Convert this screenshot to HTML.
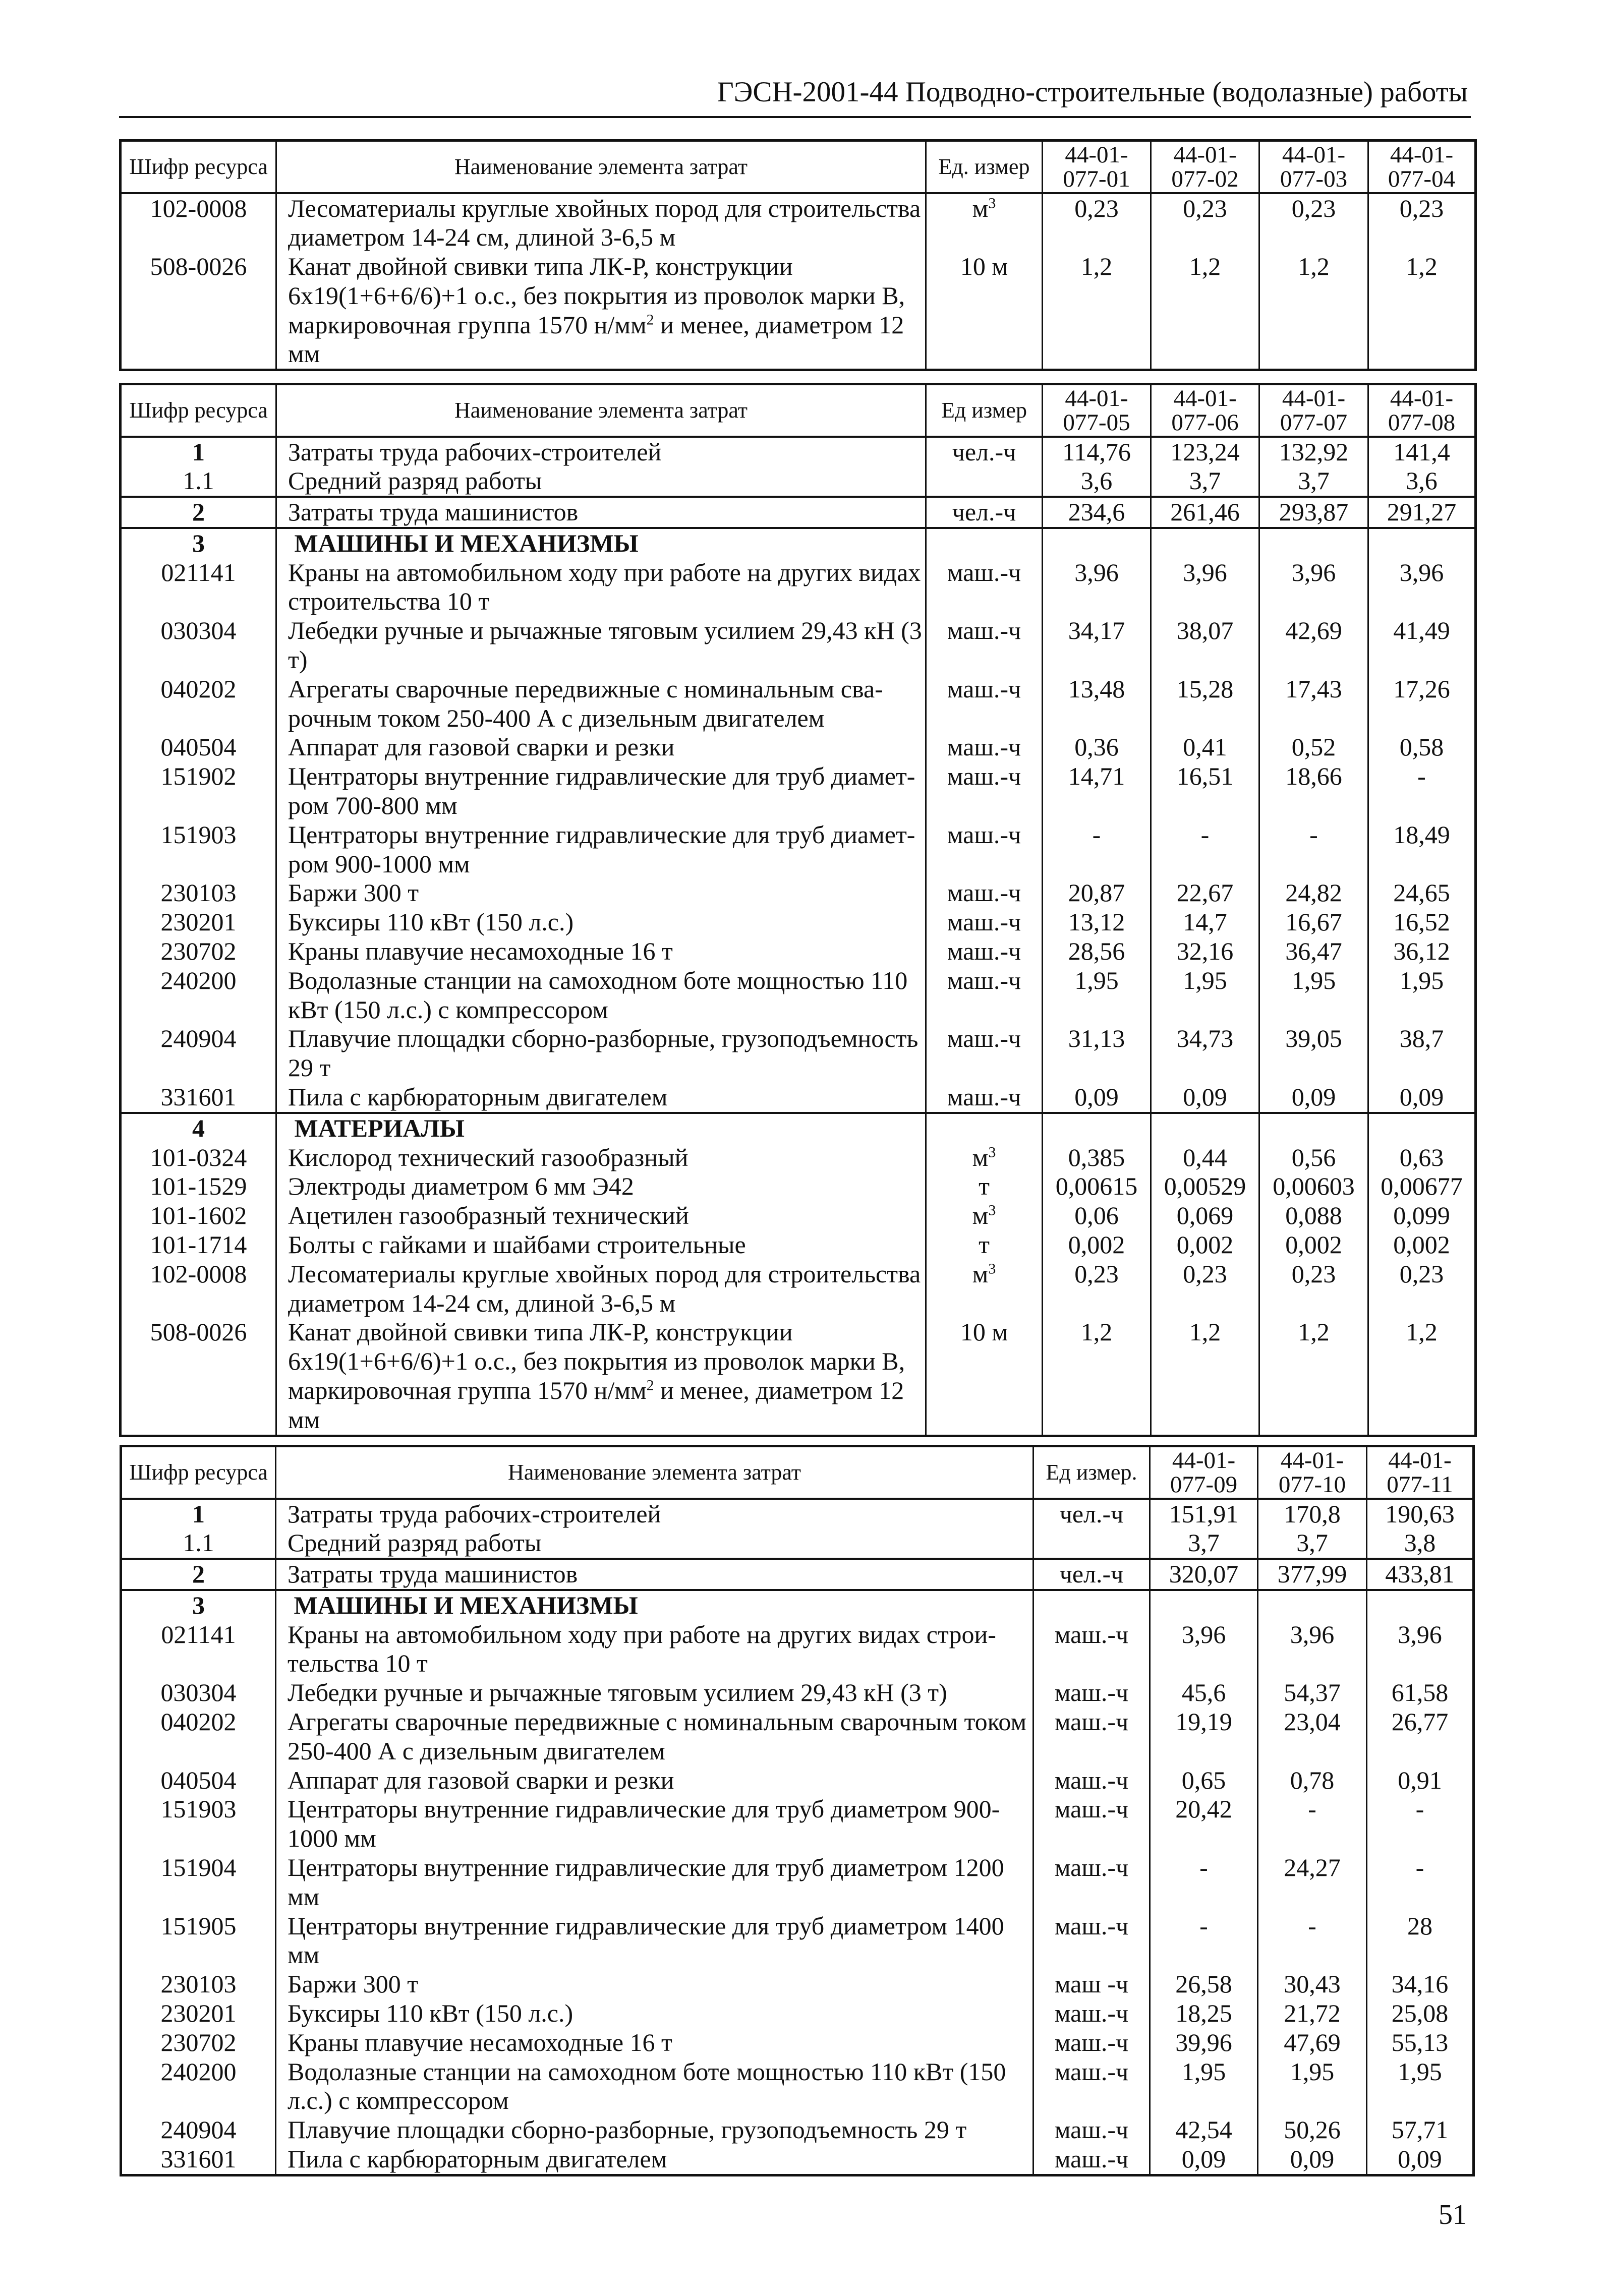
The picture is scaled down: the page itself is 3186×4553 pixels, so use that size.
<!DOCTYPE html>
<html><head><meta charset="utf-8"><style>
body{margin:0;width:3186px;height:4553px;background:#fff;position:relative;font-family:"Liberation Serif","DejaVu Serif",serif;color:#111;overflow:hidden}
.hdr{position:absolute;right:276px;top:150px;font-size:57px;white-space:nowrap}
.rule{position:absolute;left:236px;width:2680px;top:230px;height:4px;background:#111}
table{position:absolute;border-collapse:collapse;table-layout:fixed;border:5px solid #111;font-size:50px}
td{padding:0;vertical-align:top;line-height:57.8px;border-left:3px solid #111;border-right:3px solid #111;white-space:nowrap;overflow:visible}
td.c{text-align:center}
td.n{padding-left:22px}
tr.h td{vertical-align:middle;text-align:center;font-size:44px;line-height:48px;border-bottom:4px solid #111}
tr.h td.k{font-size:47px}
tr.b td{border-bottom:4px solid #111}
b{font-weight:bold}
sup{font-size:60%;line-height:0}
.pg{position:absolute;left:2852px;top:4360px;font-size:56px}
</style></head><body>
<div class="hdr">ГЭСН-2001-44 Подводно-строительные (водолазные) работы</div>
<div class="rule"></div>

<table style="left:236px;top:276px;width:2687px">
<colgroup><col style="width:309px"><col style="width:1288px"><col style="width:231px"><col style="width:215px"><col style="width:215px"><col style="width:216px"><col style="width:213px"></colgroup>
<tr class="h" style="height:104px"><td>Шифр ресурса</td><td>Наименование элемента затрат</td><td>Ед. измер</td><td class="k">44-01-<br>077-01</td><td class="k">44-01-<br>077-02</td><td class="k">44-01-<br>077-03</td><td class="k">44-01-<br>077-04</td></tr>
<tr><td class="c">102-0008</td><td class="n">Лесоматериалы круглые хвойных пород для строительства<br>диаметром 14-24 см, длиной 3-6,5 м</td><td class="c">м<sup>3</sup></td><td class="c">0,23</td><td class="c">0,23</td><td class="c">0,23</td><td class="c">0,23</td></tr>
<tr><td class="c">508-0026</td><td class="n">Канат двойной свивки типа ЛК-Р, конструкции<br>6х19(1+6+6/6)+1 о.с., без покрытия из проволок марки В,<br>маркировочная группа 1570 н/мм<sup>2</sup> и менее, диаметром 12<br>мм</td><td class="c">10 м</td><td class="c">1,2</td><td class="c">1,2</td><td class="c">1,2</td><td class="c">1,2</td></tr>
</table>

<table style="left:236px;top:759px;width:2687px">
<colgroup><col style="width:309px"><col style="width:1288px"><col style="width:231px"><col style="width:215px"><col style="width:215px"><col style="width:216px"><col style="width:213px"></colgroup>
<tr class="h" style="height:104px"><td>Шифр ресурса</td><td>Наименование элемента затрат</td><td>Ед измер</td><td class="k">44-01-<br>077-05</td><td class="k">44-01-<br>077-06</td><td class="k">44-01-<br>077-07</td><td class="k">44-01-<br>077-08</td></tr>
<tr><td class="c"><b>1</b><br>1.1</td><td class="n">Затраты труда рабочих-строителей<br>Средний разряд работы</td><td class="c">чел.-ч</td><td class="c">114,76<br>3,6</td><td class="c">123,24<br>3,7</td><td class="c">132,92<br>3,7</td><td class="c">141,4<br>3,6</td></tr>
<tr class="b" style="border-top:4px solid #111"><td class="c"><b>2</b></td><td class="n">Затраты труда машинистов</td><td class="c">чел.-ч</td><td class="c">234,6</td><td class="c">261,46</td><td class="c">293,87</td><td class="c">291,27</td></tr>
<tr><td class="c"><b>3</b><br>021141<br><br>030304<br><br>040202<br><br>040504<br>151902<br><br>151903<br><br>230103<br>230201<br>230702<br>240200<br><br>240904<br><br>331601</td>
<td class="n"><b>&nbsp;МАШИНЫ И МЕХАНИЗМЫ</b><br>Краны на автомобильном ходу при работе на других видах<br>строительства 10 т<br>Лебедки ручные и рычажные тяговым усилием 29,43 кН (3<br>т)<br>Агрегаты сварочные передвижные с номинальным сва-<br>рочным током 250-400 А с дизельным двигателем<br>Аппарат для газовой сварки и резки<br>Центраторы внутренние гидравлические для труб диамет-<br>ром 700-800 мм<br>Центраторы внутренние гидравлические для труб диамет-<br>ром 900-1000 мм<br>Баржи 300 т<br>Буксиры 110 кВт (150 л.с.)<br>Краны плавучие несамоходные 16 т<br>Водолазные станции на самоходном боте мощностью 110<br>кВт (150 л.с.) с компрессором<br>Плавучие площадки сборно-разборные, грузоподъемность<br>29 т<br>Пила с карбюраторным двигателем</td>
<td class="c"><br>маш.-ч<br><br>маш.-ч<br><br>маш.-ч<br><br>маш.-ч<br>маш.-ч<br><br>маш.-ч<br><br>маш.-ч<br>маш.-ч<br>маш.-ч<br>маш.-ч<br><br>маш.-ч<br><br>маш.-ч</td>
<td class="c"><br>3,96<br><br>34,17<br><br>13,48<br><br>0,36<br>14,71<br><br>-<br><br>20,87<br>13,12<br>28,56<br>1,95<br><br>31,13<br><br>0,09</td>
<td class="c"><br>3,96<br><br>38,07<br><br>15,28<br><br>0,41<br>16,51<br><br>-<br><br>22,67<br>14,7<br>32,16<br>1,95<br><br>34,73<br><br>0,09</td>
<td class="c"><br>3,96<br><br>42,69<br><br>17,43<br><br>0,52<br>18,66<br><br>-<br><br>24,82<br>16,67<br>36,47<br>1,95<br><br>39,05<br><br>0,09</td>
<td class="c"><br>3,96<br><br>41,49<br><br>17,26<br><br>0,58<br>-<br><br>18,49<br><br>24,65<br>16,52<br>36,12<br>1,95<br><br>38,7<br><br>0,09</td></tr>
<tr style="border-top:4px solid #111"><td class="c"><b>4</b><br>101-0324<br>101-1529<br>101-1602<br>101-1714<br>102-0008<br><br>508-0026</td>
<td class="n"><b>&nbsp;МАТЕРИАЛЫ</b><br>Кислород технический газообразный<br>Электроды диаметром 6 мм Э42<br>Ацетилен газообразный технический<br>Болты с гайками и шайбами строительные<br>Лесоматериалы круглые хвойных пород для строительства<br>диаметром 14-24 см, длиной 3-6,5 м<br>Канат двойной свивки типа ЛК-Р, конструкции<br>6х19(1+6+6/6)+1 о.с., без покрытия из проволок марки В,<br>маркировочная группа 1570 н/мм<sup>2</sup> и менее, диаметром 12<br>мм</td>
<td class="c"><br>м<sup>3</sup><br>т<br>м<sup>3</sup><br>т<br>м<sup>3</sup><br><br>10 м</td>
<td class="c"><br>0,385<br>0,00615<br>0,06<br>0,002<br>0,23<br><br>1,2</td>
<td class="c"><br>0,44<br>0,00529<br>0,069<br>0,002<br>0,23<br><br>1,2</td>
<td class="c"><br>0,56<br>0,00603<br>0,088<br>0,002<br>0,23<br><br>1,2</td>
<td class="c"><br>0,63<br>0,00677<br>0,099<br>0,002<br>0,23<br><br>1,2<br><br><br></td></tr>
</table>

<table style="left:237px;top:2865px;width:2682px">
<colgroup><col style="width:307px"><col style="width:1502px"><col style="width:231px"><col style="width:214px"><col style="width:216px"><col style="width:212px"></colgroup>
<tr class="h" style="height:104px"><td>Шифр ресурса</td><td>Наименование элемента затрат</td><td>Ед измер.</td><td class="k">44-01-<br>077-09</td><td class="k">44-01-<br>077-10</td><td class="k">44-01-<br>077-11</td></tr>
<tr><td class="c"><b>1</b><br>1.1</td><td class="n">Затраты труда рабочих-строителей<br>Средний разряд работы</td><td class="c">чел.-ч</td><td class="c">151,91<br>3,7</td><td class="c">170,8<br>3,7</td><td class="c">190,63<br>3,8</td></tr>
<tr class="b" style="border-top:4px solid #111"><td class="c"><b>2</b></td><td class="n">Затраты труда машинистов</td><td class="c">чел.-ч</td><td class="c">320,07</td><td class="c">377,99</td><td class="c">433,81</td></tr>
<tr><td class="c"><b>3</b><br>021141<br><br>030304<br>040202<br><br>040504<br>151903<br><br>151904<br><br>151905<br><br>230103<br>230201<br>230702<br>240200<br><br>240904<br>331601</td>
<td class="n"><b>&nbsp;МАШИНЫ И МЕХАНИЗМЫ</b><br>Краны на автомобильном ходу при работе на других видах строи-<br>тельства 10 т<br>Лебедки ручные и рычажные тяговым усилием 29,43 кН (3 т)<br>Агрегаты сварочные передвижные с номинальным сварочным током<br>250-400 А с дизельным двигателем<br>Аппарат для газовой сварки и резки<br>Центраторы внутренние гидравлические для труб диаметром 900-<br>1000 мм<br>Центраторы внутренние гидравлические для труб диаметром 1200<br>мм<br>Центраторы внутренние гидравлические для труб диаметром 1400<br>мм<br>Баржи 300 т<br>Буксиры 110 кВт (150 л.с.)<br>Краны плавучие несамоходные 16 т<br>Водолазные станции на самоходном боте мощностью 110 кВт (150<br>л.с.) с компрессором<br>Плавучие площадки сборно-разборные, грузоподъемность 29 т<br>Пила с карбюраторным двигателем</td>
<td class="c"><br>маш.-ч<br><br>маш.-ч<br>маш.-ч<br><br>маш.-ч<br>маш.-ч<br><br>маш.-ч<br><br>маш.-ч<br><br>маш -ч<br>маш.-ч<br>маш.-ч<br>маш.-ч<br><br>маш.-ч<br>маш.-ч</td>
<td class="c"><br>3,96<br><br>45,6<br>19,19<br><br>0,65<br>20,42<br><br>-<br><br>-<br><br>26,58<br>18,25<br>39,96<br>1,95<br><br>42,54<br>0,09</td>
<td class="c"><br>3,96<br><br>54,37<br>23,04<br><br>0,78<br>-<br><br>24,27<br><br>-<br><br>30,43<br>21,72<br>47,69<br>1,95<br><br>50,26<br>0,09</td>
<td class="c"><br>3,96<br><br>61,58<br>26,77<br><br>0,91<br>-<br><br>-<br><br>28<br><br>34,16<br>25,08<br>55,13<br>1,95<br><br>57,71<br>0,09</td></tr>
</table>

<div class="pg">51</div>
</body></html>
